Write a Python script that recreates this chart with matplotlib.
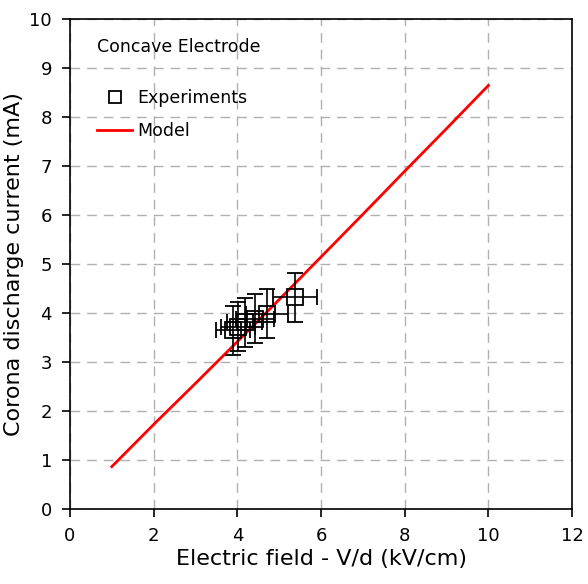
import matplotlib.pyplot as plt
from matplotlib.lines import Line2D

# experiments
exp_x = [3.90, 4.02, 4.18, 4.42, 4.70, 5.38]
exp_y = [3.65, 3.72, 3.82, 3.89, 3.99, 4.33]
exp_xerr = [0.40, 0.40, 0.42, 0.45, 0.50, 0.52]
exp_yerr = [0.50, 0.50, 0.50, 0.50, 0.50, 0.50]

# model
model_x = [1, 2, 3, 4, 5, 6, 7, 8, 9, 10]
model_y = [0.87, 1.73, 2.57, 3.42, 4.28, 5.15, 6.02, 6.90, 7.77, 8.65]

plt.rcParams['font.family'] = ['DejaVu Sans']

fig = plt.figure(figsize=(5.88, 5.84), dpi=100)
ax = fig.add_axes([0.119, 0.128, 0.854, 0.839])

ax.plot(model_x, model_y, color="red", lw=2, zorder=3)
ax.errorbar(exp_x, exp_y, xerr=exp_xerr, yerr=exp_yerr, fmt="s", mfc="none",
            mec="black", ms=11, mew=1.3, ecolor="black", elinewidth=1.2,
            capsize=6, capthick=1.2, zorder=4)

ax.set_xlim(0, 12)
ax.set_ylim(0, 10)
ax.set_xticks(range(0, 13, 2))
ax.set_yticks(range(0, 11))
ax.grid(True, color="#b0b0b0", linestyle=(0, (7, 5)), lw=1)
ax.set_axisbelow(True)
ax.tick_params(direction="out", length=6, width=1.2, labelsize=13, pad=7)
for s in ax.spines.values():
    s.set_linewidth(1.2)

ax.set_xlabel("Electric field - V/d (kV/cm)", fontsize=16, labelpad=3)
ax.set_ylabel("Corona discharge current (mA)", fontsize=16, labelpad=4)

ax.text(0.65, 9.44, "Concave Electrode", fontsize=12.5, va="center")
handles = [
    Line2D([], [], ls="none", marker="s", mfc="none", mec="black", ms=8, mew=1.3),
    Line2D([], [], color="red", lw=2),
]
ax.legend(handles, ["Experiments", "Model"], loc="upper left",
          bbox_to_anchor=(0.023, 0.89), frameon=False, fontsize=12.5,
          handlelength=2.0, handletextpad=0.3, labelspacing=0.9)

plt.savefig("out.png", dpi=100)
